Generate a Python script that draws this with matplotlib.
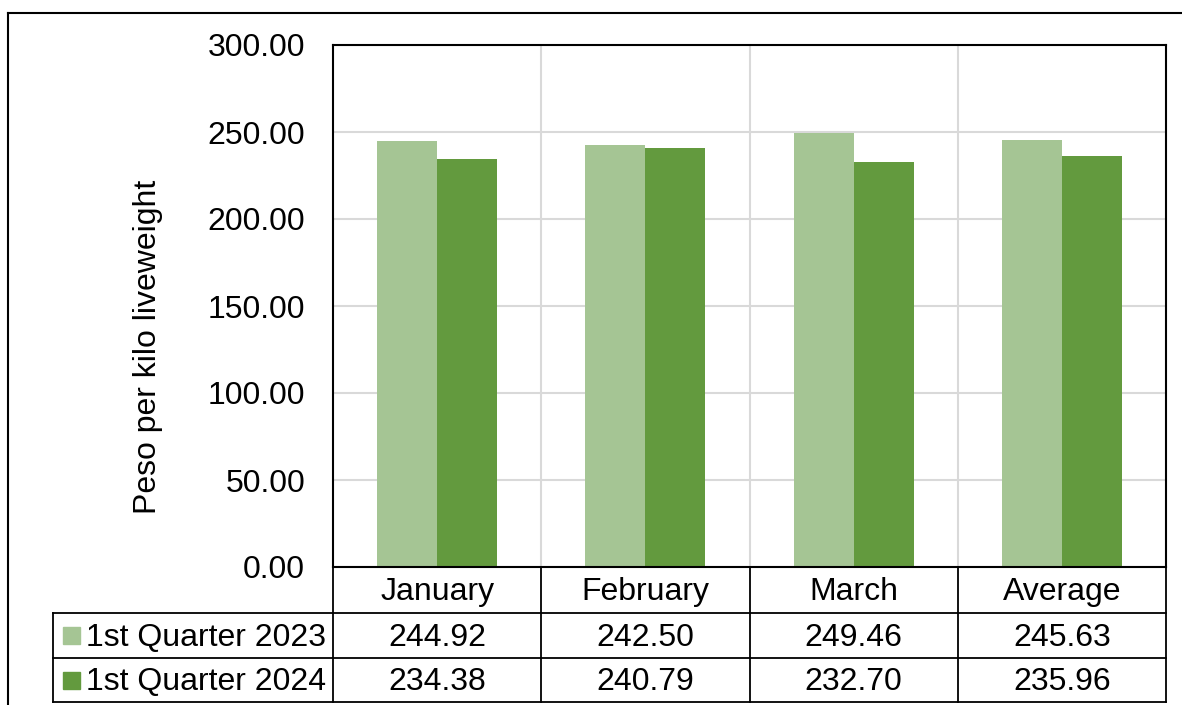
import matplotlib
matplotlib.use("Agg")
import matplotlib.pyplot as plt
import matplotlib.transforms as mtransforms
from matplotlib.lines import Line2D
from matplotlib.patches import Rectangle

plt.rcParams['font.family'] = ['Liberation Sans', 'DejaVu Sans']

months = ["January", "February", "March", "Average"]
series_names = ["1st Quarter 2023", "1st Quarter 2024"]
q1_2023 = [244.92, 242.50, 249.46, 245.63]
q1_2024 = [234.38, 240.79, 232.70, 235.96]
colors = ["#A5C594", "#639A3E"]

W, H = 1182, 705
fs = 23

def fx(px):
    return px / W

def fy(py):
    return 1 - py / H

fig = plt.figure(figsize=(W / 100, H / 100), dpi=100)
ax = fig.add_axes([fx(333), fy(567), fx(1166) - fx(333), fy(45) - fy(567)])

x = list(range(len(months)))
bw = 60 / 208
ax.bar([i - bw / 2 for i in x], q1_2023, width=bw, color=colors[0], zorder=3)
ax.bar([i + bw / 2 for i in x], q1_2024, width=bw, color=colors[1], zorder=3)

ax.set_xlim(-0.5, len(months) - 0.5)
ax.set_ylim(0, 300)
ax.set_yticks(range(0, 301, 50))
ax.set_yticklabels([f"{v:.2f}" for v in range(0, 301, 50)], fontsize=fs)
ax.set_xticks([])
ax.set_xticks([i + 0.5 for i in x[:-1]], minor=True)
ax.tick_params(axis='both', which='both', length=0)
ax.tick_params(axis='y', pad=20)
ax.grid(True, axis='y', color='#D9D9D9', linewidth=1.5, zorder=0)
ax.grid(True, axis='x', which='minor', color='#D9D9D9', linewidth=1.5, zorder=0)
for s in ax.spines.values():
    s.set_linewidth(1.5)
    s.set_color('black')
    s.set_zorder(5)

fig.text(fx(148), fy(347), "Peso per kilo liveweight", rotation=90,
         fontsize=fs, ha='center', va='center')

# data table under the plot
blend = mtransforms.blended_transform_factory(ax.transData, fig.transFigure)
row_edges = [567, 613, 658, 702]
lw = 1.3
dy = 2  # small nudge so text sits like the original

def hline(x0, x1, py):
    fig.add_artist(Line2D([fx(x0), fx(x1)], [fy(py), fy(py)], color='black', lw=lw))

def vline(px, y0, y1):
    fig.add_artist(Line2D([fx(px), fx(px)], [fy(y0), fy(y1)], color='black', lw=lw))

hline(53, 1166, 613)
hline(53, 1166, 658)
hline(53, 1166, 702)
for px in [333, 541, 750, 958, 1166]:
    vline(px, 567, 702)
vline(53, 613, 702)

for i, m in enumerate(months):
    ax.text(i, fy((row_edges[0] + row_edges[1]) / 2 + dy), m, transform=blend,
            ha='center', va='center', fontsize=fs)

for r, vals in enumerate([q1_2023, q1_2024]):
    yc = (row_edges[r + 1] + row_edges[r + 2]) / 2
    for i, v in enumerate(vals):
        ax.text(i, fy(yc + dy), f"{v:.2f}", transform=blend,
                ha='center', va='center', fontsize=fs)
    fig.add_artist(Rectangle((fx(63), fy(yc + 8.5)), fx(17), 17 / H,
                             transform=fig.transFigure, color=colors[r]))
    fig.text(fx(86), fy(yc + dy), series_names[r], ha='left', va='center', fontsize=fs)

# outer chart border (cut off at right and bottom)
fig.add_artist(Line2D([fx(8), fx(1182)], [fy(13), fy(13)], color='black', lw=1.5))
fig.add_artist(Line2D([fx(8), fx(8)], [fy(13), fy(705)], color='black', lw=1.5))

plt.savefig("out.png", dpi=100)
